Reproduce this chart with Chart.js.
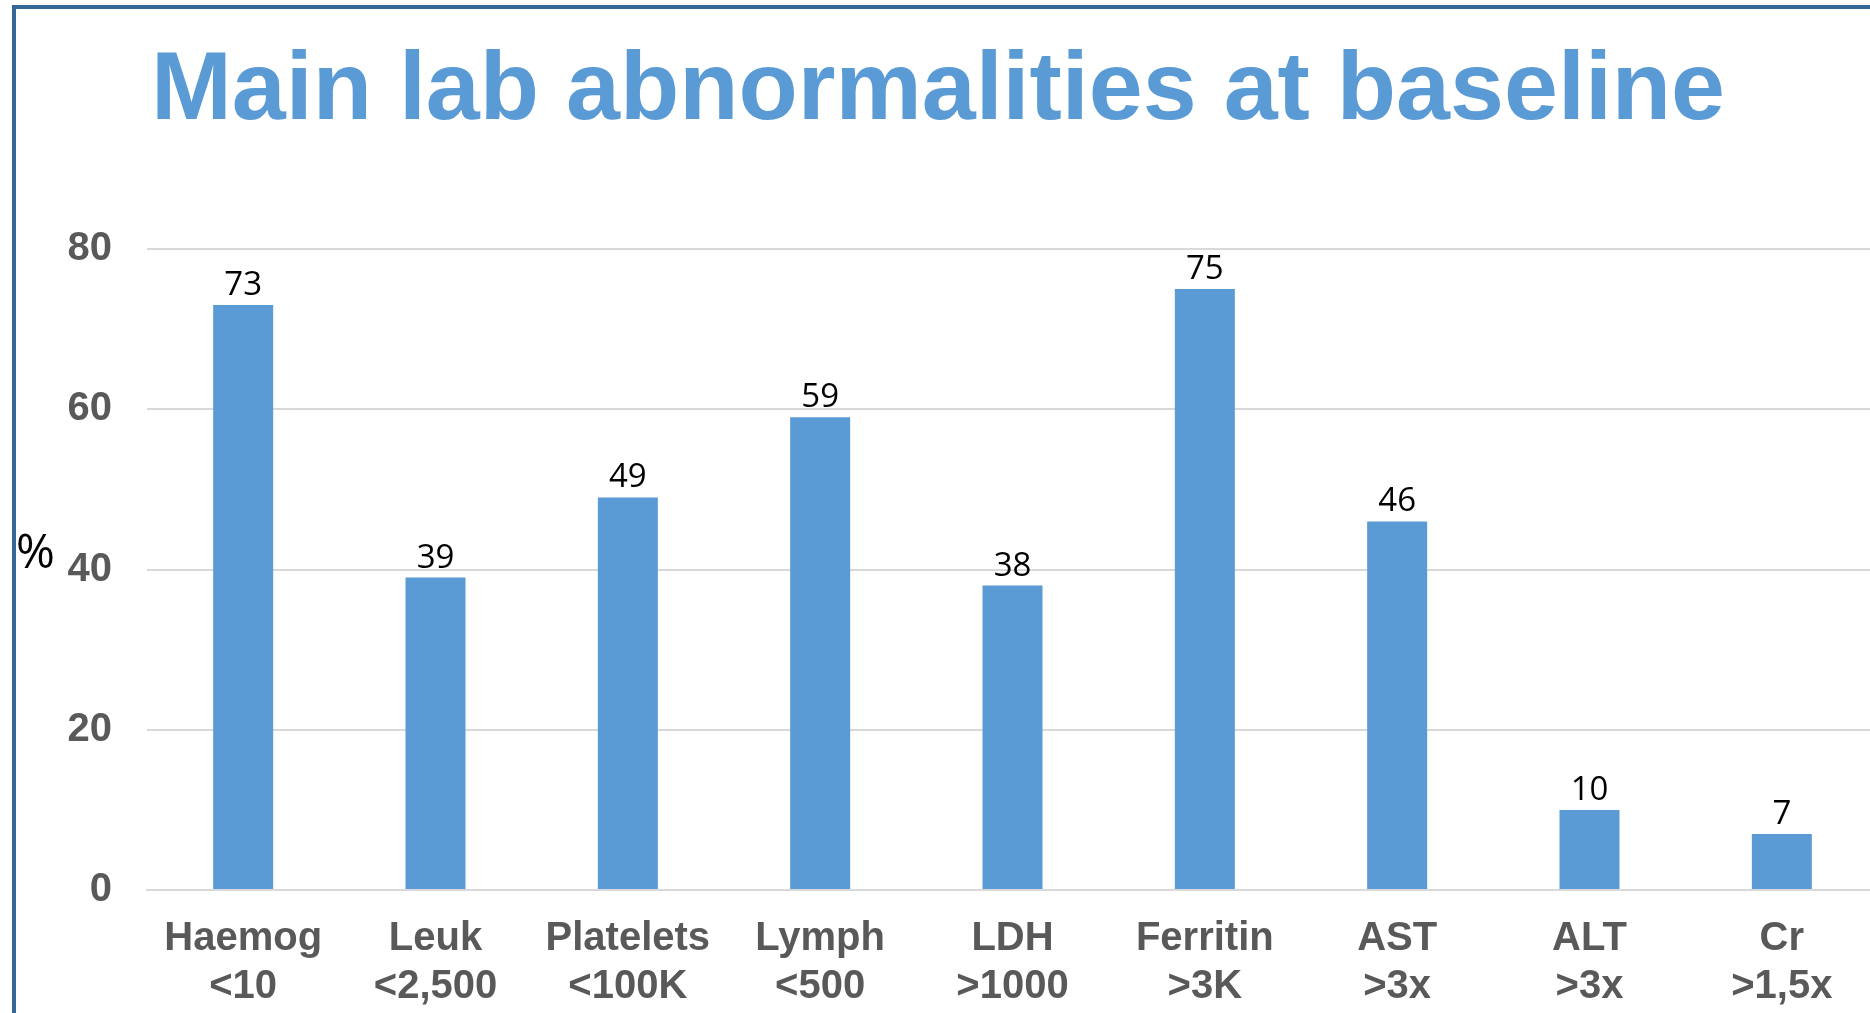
<!DOCTYPE html>
<html>
<head>
<meta charset="utf-8">
<script src="https://cdn.jsdelivr.net/npm/chart.js@4.4.1/dist/chart.umd.min.js"></script>
<style>
  html, body { margin: 0; padding: 0; width: 1870px; height: 1013px; overflow: hidden; background: #fff; }
  #frame { position: absolute; left: 12px; top: 5px; width: 1880px; height: 1030px;
           border-left: 4px solid #35679a; border-top: 4px solid #35679a; }
  #title { position: absolute; left: 151px; top: 37px; font: bold 97px "Liberation Sans", Arial, sans-serif;
           line-height: 1; color: #5B9BD5; white-space: nowrap; }
  #wrap { position: absolute; left: 0; top: 0; width: 1878px; height: 1013px; }
</style>
</head>
<body>
<div id="frame"></div>
<div id="title">Main lab abnormalities at baseline</div>
<div id="wrap"><canvas id="c"></canvas></div>
<script>
// Lab test categories, shown as two-line axis labels
const testNames = ['Haemog', 'Leuk', 'Platelets', 'Lymph', 'LDH', 'Ferritin', 'AST', 'ALT', 'Cr'];
const thresholds = ['<10', '<2,500', '<100K', '<500', '>1000', '>3K', '>3x', '>3x', '>1,5x'];
// Share of patients with each abnormality (%)
const percentValues = [73, 39, 49, 59, 38, 75, 46, 10, 7];
// Y axis range and step
const yMin = 0, yMax = 80, yStep = 20;
const unitLabel = '%';

const categories = testNames.map((n, i) => [n, thresholds[i]]);

const BAR_COLOR = '#5B9BD5';
const GRID_COLOR = '#d9d9d9';
const AXIS_TEXT = '#595959';
const BOLD_FONT = '"Liberation Sans", Arial, sans-serif';
const LABEL_FONT = '"Open Sans", "Noto Sans", sans-serif';

// Value labels above each bar, plus the unit marker beside the y axis
const valueLabels = {
  id: 'valueLabels',
  afterDatasetsDraw(chart) {
    const ctx = chart.ctx;
    ctx.save();
    ctx.fillStyle = '#000';
    ctx.font = '33px ' + LABEL_FONT;
    ctx.textAlign = 'center';
    ctx.textBaseline = 'alphabetic';
    const meta = chart.getDatasetMeta(0);
    meta.data.forEach((bar, i) => {
      ctx.fillText(String(chart.data.datasets[0].data[i]), bar.x, bar.y - 10);
    });
    // unit marker next to the 40 tick
    const y40 = chart.scales.y.getPixelForValue(40);
    ctx.font = '47px ' + LABEL_FONT;
    ctx.textAlign = 'left';
    ctx.fillText(unitLabel, 16, y40 - 2);
    ctx.restore();
  }
};

new Chart(document.getElementById('c'), {
  type: 'bar',
  data: {
    labels: categories,
    datasets: [{
      data: percentValues,
      backgroundColor: BAR_COLOR,
      borderWidth: 0,
      barPercentage: 0.312,
      categoryPercentage: 1.0
    }]
  },
  options: {
    responsive: true,
    maintainAspectRatio: false,
    animation: false,
    devicePixelRatio: 1,
    layout: { padding: { top: 249, right: 0, bottom: 0, left: 0 } },
    plugins: {
      legend: { display: false },
      title: { display: false },
      tooltip: { enabled: false }
    },
    scales: {
      x: {
        grid: { display: false, drawTicks: false },
        border: { display: true, color: GRID_COLOR, width: 2 },
        ticks: {
          color: AXIS_TEXT,
          font: { family: BOLD_FONT, size: 40, weight: 'bold', lineHeight: 1.2 },
          padding: 25,
          maxRotation: 0,
          autoSkip: false
        },
        afterFit(scale) { scale.height = 123; }
      },
      y: {
        min: yMin,
        max: yMax,
        grid: { color: GRID_COLOR, lineWidth: 2, drawTicks: false },
        border: { display: false },
        ticks: {
          stepSize: yStep,
          color: AXIS_TEXT,
          font: { family: BOLD_FONT, size: 40, weight: 'bold' },
          padding: 35
        },
        afterFit(scale) { scale.width = 147; }
      }
    }
  },
  plugins: [valueLabels]
});
</script>
</body>
</html>
